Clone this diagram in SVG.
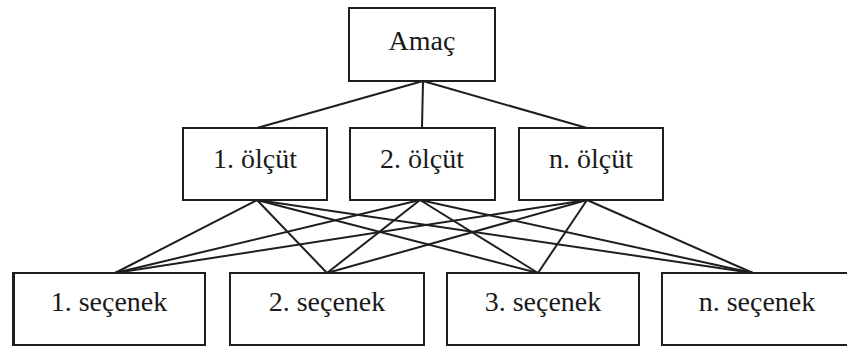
<svg xmlns="http://www.w3.org/2000/svg" width="847" height="347" viewBox="0 0 847 347">
  <style>
    .box { fill: #ffffff; stroke: #1e1e1e; stroke-width: 2; }
    .lbl { font-size: 28px; fill: #1a1a1a; text-anchor: middle; }
    .edge { stroke: #1e1e1e; stroke-width: 2; fill: none; }
  </style>
  <rect width="847" height="347" fill="#ffffff"/>

  <!-- connectors -->
  <g id="connectors">
    <!-- goal to criteria -->
    <line class="edge" x1="423" y1="81" x2="257" y2="128"/>
    <line class="edge" x1="423" y1="81" x2="422" y2="128"/>
    <line class="edge" x1="423" y1="81" x2="587" y2="128"/>
    <!-- criterion 1 to alternatives -->
    <line class="edge" x1="257" y1="200" x2="115" y2="273"/>
    <line class="edge" x1="257" y1="200" x2="327" y2="273"/>
    <line class="edge" x1="257" y1="200" x2="538" y2="273"/>
    <line class="edge" x1="257" y1="200" x2="753" y2="273"/>
    <!-- criterion 2 to alternatives -->
    <line class="edge" x1="420" y1="200" x2="115" y2="273"/>
    <line class="edge" x1="420" y1="200" x2="327" y2="273"/>
    <line class="edge" x1="420" y1="200" x2="538" y2="273"/>
    <line class="edge" x1="420" y1="200" x2="753" y2="273"/>
    <!-- criterion n to alternatives -->
    <line class="edge" x1="587" y1="200" x2="115" y2="273"/>
    <line class="edge" x1="587" y1="200" x2="327" y2="273"/>
    <line class="edge" x1="587" y1="200" x2="538" y2="273"/>
    <line class="edge" x1="587" y1="200" x2="753" y2="273"/>
  </g>

  <g font-family="Liberation Serif, DejaVu Serif, serif">
    <g id="goal">
      <rect class="box" x="349" y="8" width="146" height="73"/>
      <text class="lbl" x="422" y="50">Amaç</text>
    </g>

    <g id="criterion-1">
      <rect class="box" x="183" y="128" width="144" height="72"/>
      <text class="lbl" x="255" y="168">1. ölçüt</text>
    </g>
    <g id="criterion-2">
      <rect class="box" x="350" y="128" width="145" height="72"/>
      <text class="lbl" x="422" y="168">2. ölçüt</text>
    </g>
    <g id="criterion-n">
      <rect class="box" x="519" y="128" width="144" height="72"/>
      <text class="lbl" x="591" y="168">n. ölçüt</text>
    </g>

    <g id="alternative-1">
      <rect class="box" x="13" y="273" width="192" height="72"/>
      <line x1="13.5" y1="273" x2="13.5" y2="345" stroke="#1e1e1e" stroke-width="3"/>
      <text class="lbl" x="109" y="311">1. seçenek</text>
    </g>
    <g id="alternative-2">
      <rect class="box" x="230" y="273" width="194" height="72"/>
      <text class="lbl" x="327" y="311">2. seçenek</text>
    </g>
    <g id="alternative-3">
      <rect class="box" x="447" y="273" width="192" height="72"/>
      <text class="lbl" x="543" y="311">3. seçenek</text>
    </g>
    <g id="alternative-n">
      <rect class="box" x="662" y="273" width="200" height="72"/>
      <text class="lbl" x="757" y="311">n. seçenek</text>
    </g>
  </g>
</svg>
